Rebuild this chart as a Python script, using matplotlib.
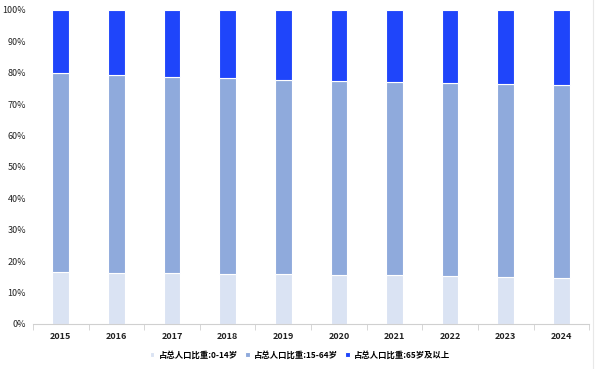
import numpy as np
import matplotlib.pyplot as plt
from matplotlib.ticker import PercentFormatter, FixedLocator

plt.rcParams['font.family'] = ['Noto Sans CJK SC', 'DejaVu Sans']

years = ['2015', '2016', '2017', '2018', '2019', '2020', '2021', '2022', '2023', '2024']
age_0_14 = [16.4, 16.2, 16.1, 16.0, 15.9, 15.7, 15.5, 15.3, 15.0, 14.7]
age_65 = [20.2, 20.8, 21.3, 21.8, 22.2, 22.6, 22.9, 23.3, 23.6, 23.9]
age_15_64 = [100 - a - b for a, b in zip(age_0_14, age_65)]
labels = ['占总人口比重:0-14岁', '占总人口比重:15-64岁', '占总人口比重:65岁及以上']
colors = ['#dae3f3', '#8faadc', '#1f45fa']

fig = plt.figure(figsize=(6, 3.69), dpi=100)
ax = fig.add_axes([0.055, 0.122, 0.927, 0.851])

x = np.arange(len(years))
w = 0.3
bottom = np.zeros(len(years))
for vals, c, lab in zip([age_0_14, age_15_64, age_65], colors, labels):
    ax.bar(x, vals, w, bottom=bottom, color=c, edgecolor='white', linewidth=0.8, label=lab)
    bottom += np.array(vals)

ax.set_xlim(-0.5, len(years) - 0.5)
ax.set_ylim(0, 100)
ax.set_yticks(np.arange(0, 101, 10))
ax.yaxis.set_major_formatter(PercentFormatter(decimals=0))
ax.set_xticks(x)
ax.set_xticklabels(years, fontsize=6.5, fontweight='bold', color='#222222')
ax.xaxis.set_minor_locator(FixedLocator(np.arange(-0.5, len(years), 1)))
ax.tick_params(axis='x', which='major', length=0, pad=6)
ax.tick_params(axis='x', which='minor', length=4, color='#d0d0d0', direction='out')
ax.tick_params(axis='y', length=0, labelsize=6.5, labelcolor='#222222', pad=5)
for s in ['top', 'right', 'left']:
    ax.spines[s].set_visible(False)
ax.spines['bottom'].set_color('#d0d0d0')

fig.legend(loc='center', bbox_to_anchor=(0.5, 0.038), ncol=3, frameon=False,
           handlelength=0.55, handleheight=0.55, handletextpad=0.5,
           columnspacing=0.9, prop={'weight': 'bold', 'size': 6})

fig.add_artist(plt.Line2D([0.988, 0.988], [0.0, 1.0], color='#e8e8e8', linewidth=0.8))

fig.savefig('out.png', dpi=100)
